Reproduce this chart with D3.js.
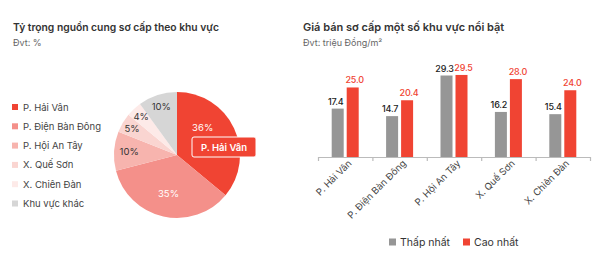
<!DOCTYPE html>
<html>
<head>
<meta charset="utf-8">
<script src="https://cdn.jsdelivr.net/npm/d3@7"></script>
<style>
  body { margin: 0; background: #fff; }
  svg { font-family: Inter, "Noto Sans", sans-serif; display: block; }
</style>
</head>
<body>
<svg></svg>
<script>
let pieLabels = ['P. Hải Vân', 'P. Điện Bàn Đông', 'P. Hội An Tây', 'X. Quế Sơn', 'X. Chiên Đàn', 'Khu vực khác'];
let pieValues = [36, 35, 10, 5, 4, 10];
let pieColors = ['#f04433', '#f4908a', '#f7b4ae', '#fad5d1', '#fdeae8', '#d6d6d6'];

let barCategories = ['P. Hải Vân', 'P. Điện Bàn Đông', 'P. Hội An Tây', 'X. Quế Sơn', 'X. Chiên Đàn'];
let lowValues = [17.4, 14.7, 29.3, 16.2, 15.4];
let highValues = [25.0, 20.4, 29.5, 28.0, 24.0];
let seriesNames = ['Thấp nhất', 'Cao nhất'];
let seriesColors = ['#969696', '#f04433'];

let width = 613;
let height = 270;

let svg = d3.select('svg').attr('width', width).attr('height', height);

// titles
let addTitle = (x, title, unit, size) => {
  svg.append('text').attr('x', x).attr('y', 31)
    .attr('font-size', size).attr('font-weight', 600).attr('fill', '#333')
    .text(title);
  svg.append('text').attr('x', x).attr('y', 46)
    .attr('font-size', 9).attr('fill', '#666')
    .text(unit);
};
addTitle(13, 'Tỷ trọng nguồn cung sơ cấp theo khu vực', 'Đvt: %', 10.3);
addTitle(303, 'Giá bán sơ cấp một số khu vực nổi bật', 'Đvt: triệu Đồng/m²', 11);

// pie
let cx = 177, cy = 155, r = 63;
let pie = d3.pie().sort(null).value(d => d);
let arcs = pie(pieValues);
let arc = d3.arc().innerRadius(0).outerRadius(r);

let pg = svg.append('g').attr('transform', 'translate(' + cx + ',' + cy + ')');
pg.selectAll('path').data(arcs).enter().append('path')
  .attr('d', arc)
  .attr('fill', (d, i) => pieColors[i]);

// label radius (share of r) and where in the slice the label sits
let labelR = [0.6, 0.62, 0.76, 0.83, 0.83, 0.81];
let labelPos = [0.33, 0.5, 0.5, 0.5, 0.5, 0.5];
pg.selectAll('text.pct').data(arcs).enter().append('text')
  .attr('class', 'pct')
  .attr('transform', (d, i) => {
    let a = d.startAngle + (d.endAngle - d.startAngle) * labelPos[i];
    let rr = r * labelR[i];
    return 'translate(' + (Math.sin(a) * rr) + ',' + (-Math.cos(a) * rr + 3.5) + ')';
  })
  .attr('text-anchor', 'middle')
  .attr('font-size', 9.5)
  .attr('fill', (d, i) => i < 2 ? '#fff' : '#333')
  .text(d => d.value + '%');

// callout box for first slice
let callout = svg.append('g').attr('transform', 'translate(192,137)');
callout.append('rect').attr('width', 64).attr('height', 20).attr('rx', 2)
  .attr('fill', pieColors[0]).attr('stroke', '#fff').attr('stroke-width', 1);
callout.append('text').attr('x', 32).attr('y', 13.5).attr('text-anchor', 'middle')
  .attr('font-size', 9.5).attr('font-weight', 600).attr('fill', '#fff')
  .text(pieLabels[0]);

// pie legend
let lg = svg.append('g').attr('transform', 'translate(12,107)');
let li = lg.selectAll('g').data(pieLabels).enter().append('g')
  .attr('transform', (d, i) => 'translate(0,' + (i * 19.3) + ')');
li.append('rect').attr('x', 0).attr('y', -3).attr('width', 6).attr('height', 6)
  .attr('fill', (d, i) => pieColors[i]);
li.append('text').attr('x', 11).attr('y', 3.5).attr('font-size', 9.5).attr('fill', '#444')
  .text(d => d);

// bars
let x0 = d3.scaleBand().domain(barCategories).range([318, 590]);
let yScale = d3.scaleLinear().domain([0, 32]).range([157, 68]);
let barW = 12, gap = 3;

let groups = svg.append('g').selectAll('g').data(barCategories).enter().append('g')
  .attr('transform', d => 'translate(' + (x0(d) + x0.bandwidth() / 2) + ',0)');

[lowValues, highValues].forEach((vals, s) => {
  let bx = s === 0 ? -barW - gap / 2 : gap / 2;
  groups.append('rect')
    .attr('x', bx)
    .attr('y', (d, i) => yScale(vals[i]))
    .attr('width', barW)
    .attr('height', (d, i) => yScale(0) - yScale(vals[i]))
    .attr('fill', seriesColors[s]);
  groups.append('text')
    .attr('x', bx + barW / 2 + (s === 0 ? -2 : 2))
    .attr('y', (d, i) => yScale(vals[i]) - 4)
    .attr('text-anchor', 'middle')
    .attr('font-size', 9)
    .attr('font-weight', 500)
    .attr('letter-spacing', -0.2)
    .attr('fill', s === 0 ? '#222' : '#f04433')
    .text((d, i) => vals[i].toFixed(1));
});

// x axis
let xAxis = d3.axisBottom(d3.scaleLinear().domain([0, 5]).range([318, 590]))
  .ticks(5).tickSize(4).tickFormat('');
let ax = svg.append('g').attr('transform', 'translate(0,157)').call(xAxis);
ax.selectAll('path, line').attr('stroke', '#bbb').attr('stroke-width', 1.2);
ax.select('.domain').attr('d', 'M318,0.5H590');

svg.append('g').selectAll('text').data(barCategories).enter().append('text')
  .attr('transform', d => 'translate(' + (x0(d) + x0.bandwidth() / 2 + 7) + ',164) rotate(-45)')
  .attr('text-anchor', 'end')
  .attr('font-size', 9.5)
  .attr('fill', '#444')
  .text(d => d);

// bar legend
let bl = svg.append('g').attr('transform', 'translate(389,242)');
let legX = [0, 74];
seriesNames.forEach((n, i) => {
  bl.append('rect').attr('x', legX[i]).attr('y', -3.5).attr('width', 7).attr('height', 7)
    .attr('fill', seriesColors[i]);
  bl.append('text').attr('x', legX[i] + 11).attr('y', 4).attr('font-size', 10.5)
    .attr('fill', '#333').text(n);
});
</script>
</body>
</html>
